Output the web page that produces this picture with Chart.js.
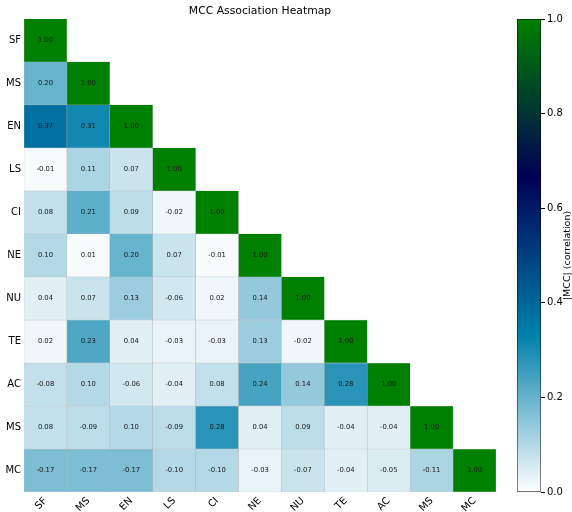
<!DOCTYPE html>
<html>
<head>
<meta charset="utf-8">
<script src="https://cdn.jsdelivr.net/npm/chart.js@4.4.1/dist/chart.umd.min.js"></script>
<style>
  html, body { margin: 0; padding: 0; background: #fff; }
  #wrap { position: relative; width: 572px; height: 512px; }
  #heat { position: absolute; left: 0; top: 0; }
  #cbar { position: absolute; left: 505px; top: 0; }
</style>
</head>
<body>
<div id="wrap">
  <canvas id="heat" width="520" height="512"></canvas>
  <canvas id="cbar" width="67" height="512"></canvas>
</div>
<script>
'use strict';

/* ── Data ─────────────────────────────────────────────────────────────── */

const labels = ['SF', 'MS', 'EN', 'LS', 'CI', 'NE', 'NU', 'TE', 'AC', 'MS', 'MC'];

// lower triangle, row by row (row i has i+1 values)
const mccRows = [
    [1.00],
    [0.20, 1.00],
    [0.37, 0.31, 1.00],
    [-0.01, 0.11, 0.07, 1.00],
    [0.08, 0.21, 0.09, -0.02, 1.00],
    [0.10, 0.01, 0.20, 0.07, -0.01, 1.00],
    [0.04, 0.07, 0.13, -0.06, 0.02, 0.14, 1.00],
    [0.02, 0.23, 0.04, -0.03, -0.03, 0.13, -0.02, 1.00],
    [-0.08, 0.10, -0.06, -0.04, 0.08, 0.24, 0.14, 0.28, 1.00],
    [0.08, -0.09, 0.10, -0.09, 0.28, 0.04, 0.09, -0.04, -0.04, 1.00],
    [-0.17, -0.17, -0.17, -0.10, -0.10, -0.03, -0.07, -0.04, -0.05, -0.11, 1.00],
];

const cbarTicks = [0, 0.2, 0.4, 0.6, 0.8, 1.0];

/* ── Colormap (matplotlib ocean_r) ────────────────────────────────────── */

function oceanR(v) {
    const x = 1 - Math.max(0, Math.min(1, v));
    const r = Math.max(0, Math.min(1, 3 * x - 2));
    const g = Math.min(1, Math.abs(3 * x - 1) / 2);
    const b = x;
    return `rgb(${Math.round(r * 255)},${Math.round(g * 255)},${Math.round(b * 255)})`;
}

const FONT = "'DejaVu Sans', sans-serif";

/* ── Heatmap ──────────────────────────────────────────────────────────── */

const datasets = mccRows.map((row, i) => ({
    label: labels[i],
    data: labels.map((_, j) => (j < row.length ? [i - 0.5, i + 0.5] : null)),
    values: row,
    backgroundColor: labels.map((_, j) => (j < row.length ? oceanR(Math.abs(row[j])) : 'rgba(0,0,0,0)')),
    borderColor: 'rgba(150,150,150,0.55)',
    borderWidth: 0.5,
    borderSkipped: false,
    barPercentage: 1,
    categoryPercentage: 1,
    grouped: false,
}));

const cellText = {
    id: 'cellText',
    afterDatasetsDraw(chart) {
        const ctx = chart.ctx;
        ctx.save();
        ctx.font = `6.8px ${FONT}`;
        ctx.fillStyle = '#1a1a1a';
        ctx.textAlign = 'center';
        ctx.textBaseline = 'middle';
        chart.data.datasets.forEach((ds, i) => {
            const meta = chart.getDatasetMeta(i);
            ds.values.forEach((v, j) => {
                const el = meta.data[j];
                ctx.fillText(v.toFixed(2), el.x, (el.y + el.base) / 2);
            });
        });
        ctx.restore();
    },
};

new Chart(document.getElementById('heat'), {
    type: 'bar',
    data: { labels: labels, datasets: datasets },
    plugins: [cellText],
    options: {
        responsive: false,
        animation: false,
        layout: { padding: { left: 0, right: 24, top: 0, bottom: 0 } },
        plugins: {
            legend: { display: false },
            tooltip: { enabled: false },
            title: {
                display: true,
                text: 'MCC Association Heatmap',
                fullSize: false,
                color: '#000',
                font: { family: FONT, size: 10.8, weight: 'normal', lineHeight: 1.1 },
                padding: { top: 5, bottom: 2 },
            },
        },
        scales: {
            x: {
                type: 'category',
                grid: { display: false, drawTicks: false },
                border: { display: false },
                ticks: { color: '#000', font: { family: FONT, size: 10 }, minRotation: 45, maxRotation: 45, padding: 3 },
                afterFit: s => { s.height = 20; },
            },
            y: {
                type: 'linear',
                min: -0.5,
                max: 10.5,
                reverse: true,
                grid: { display: false, drawTicks: false },
                border: { display: false },
                afterBuildTicks: s => { s.ticks = labels.map((_, i) => ({ value: i })); },
                ticks: { color: '#000', font: { family: FONT, size: 10 }, padding: 3, callback: v => labels[v] },
                afterFit: s => { s.width = 24; },
            },
        },
    },
});

/* ── Colorbar ─────────────────────────────────────────────────────────── */

const cbarTitle = {
    id: 'cbarTitle',
    afterDraw(chart) {
        const ctx = chart.ctx;
        const a = chart.chartArea;
        ctx.save();
        ctx.translate(63, (a.top + a.bottom) / 2);
        ctx.rotate(-Math.PI / 2);
        ctx.font = `9.5px ${FONT}`;
        ctx.fillStyle = '#000';
        ctx.textAlign = 'center';
        ctx.textBaseline = 'middle';
        ctx.fillText('|MCC| (correlation)', 0, 0);
        ctx.restore();
    },
};

new Chart(document.getElementById('cbar'), {
    type: 'bar',
    data: {
        labels: [''],
        datasets: [{
            data: [[0, 1]],
            backgroundColor: c => {
                const a = c.chart.chartArea;
                if (!a) return null;
                const g = c.chart.ctx.createLinearGradient(0, a.bottom, 0, a.top);
                for (let k = 0; k <= 12; k++) g.addColorStop(k / 12, oceanR(k / 12));
                return g;
            },
            borderColor: '#000',
            borderWidth: 0.8,
            borderSkipped: false,
            barPercentage: 1,
            categoryPercentage: 1,
        }],
    },
    plugins: [cbarTitle],
    options: {
        responsive: false,
        animation: false,
        layout: { padding: { left: 12, right: 0, top: 19, bottom: 20 } },
        plugins: { legend: { display: false }, tooltip: { enabled: false } },
        scales: {
            x: { display: false },
            y: {
                position: 'right',
                min: 0,
                max: 1,
                grid: { drawOnChartArea: false, drawTicks: true, tickLength: 4, color: '#000' },
                border: { display: false },
                afterBuildTicks: s => { s.ticks = cbarTicks.map(v => ({ value: v })); },
                ticks: { color: '#000', font: { family: FONT, size: 10 }, padding: 2, callback: v => v.toFixed(1) },
                afterFit: s => { s.width = 31; },
            },
        },
    },
});
</script>
</body>
</html>
